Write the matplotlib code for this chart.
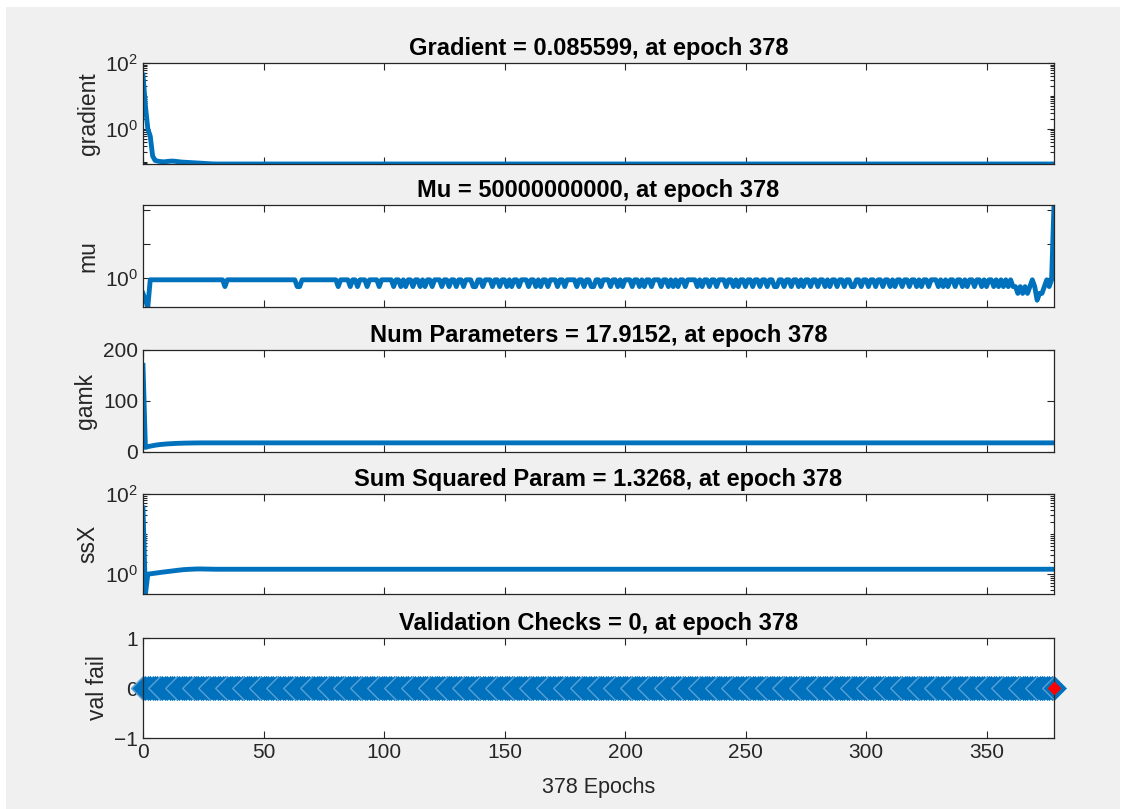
import numpy as np
import matplotlib
matplotlib.use('Agg')
import matplotlib.pyplot as plt
from matplotlib.ticker import LogLocator, FixedLocator, FixedFormatter, NullFormatter, NullLocator
from matplotlib.patches import Rectangle
from matplotlib.path import Path

plt.rcParams['font.family'] = ['Liberation Sans', 'DejaVu Sans']
plt.rcParams['mathtext.fontset'] = 'custom'
plt.rcParams['mathtext.rm'] = 'Liberation Sans'
plt.rcParams['mathtext.it'] = 'Liberation Sans:italic'
plt.rcParams['mathtext.bf'] = 'Liberation Sans:bold'

# ---------------- data ----------------
n_epochs = 378
epochs = np.arange(n_epochs + 1)

# gradient: fast drop over the first epochs, then flat
grad_head = [43, 5.0, 1.0, 0.6, 0.15, 0.11, 0.105, 0.102, 0.1, 0.1,
             0.102, 0.104, 0.105, 0.104, 0.102, 0.1, 0.098, 0.097, 0.096, 0.095,
             0.094, 0.093, 0.092, 0.091, 0.09, 0.089, 0.088, 0.087, 0.0865, 0.086]
grad_tail = [0.0856] * (n_epochs + 1 - len(grad_head))
gradient = np.array(grad_head + grad_tail)

# mu: first epochs, then one digit per epoch (d -> 5*10^-d), then the final jump
mu_head = [0.005, 0.0005, 0.00005]
mu_digits = ("11111 11111 11111 11111 11111"
             "11111 12111 11111 11111 11111"
             "11111 11111 12211 11111 11111"
             "11121 11121 12111 21111 21111"
             "12112 12112 11212 11211 12112"
             "11211 21112 21121 11211 21121"
             "21121 11211 21211 21112 11211"
             "11211 21122 11211 12112 12111"
             "21121 21121 11211 21212 11211"
             "11212 11211 21112 11212 11211"
             "21121 12112 21121 12112 12112"
             "11211 21211 21121 12211 21121"
             "12112 11212 11211 21121 21121"
             "11212 12112 11212 11211 21211"
             "21212 12122 32323 21243 32121").replace(' ', '')
mu_final = 5e10
mu = np.array(mu_head + [5 * 10.0 ** -int(d) for d in mu_digits] + [mu_final])

# effective number of parameters
gamk_head = [170, 9, 10.5, 11.5, 12.5, 13.3, 14, 14.6, 15.1, 15.5,
             15.9, 16.2, 16.5, 16.7, 16.9, 17.1, 17.3, 17.4, 17.5, 17.6,
             17.7, 17.8, 17.85, 17.9]
gamk_tail = [17.9152] * (n_epochs + 1 - len(gamk_head))
gamk = np.array(gamk_head + gamk_tail)

# sum squared parameters
ssx_head = [45, 0.32, 1.0, 1.02, 1.04, 1.06, 1.08, 1.1, 1.12, 1.14,
            1.16, 1.18, 1.2, 1.22, 1.24, 1.26, 1.28, 1.3, 1.31, 1.32,
            1.33, 1.34, 1.345, 1.35, 1.35, 1.345, 1.34, 1.335, 1.33]
ssx_tail = [1.3268] * (n_epochs + 1 - len(ssx_head))
ssx = np.array(ssx_head + ssx_tail)

# validation checks
val_fail = np.array([0] * (n_epochs + 1))

titles = ['Gradient = 0.085599, at epoch 378',
          'Mu = 50000000000, at epoch 378',
          'Num Parameters = 17.9152, at epoch 378',
          'Sum Squared Param = 1.3268, at epoch 378',
          'Validation Checks = 0, at epoch 378']
ylabels = ['gradient', 'mu', 'gamk', 'ssX', 'val fail']
xticks = [0, 50, 100, 150, 200, 250, 300, 350]

# ---------------- figure ----------------
W, H = 1122, 809
fig = plt.figure(figsize=(W / 100, H / 100), dpi=100, facecolor='white')
fig.patches.append(Rectangle((6 / W, 0), (1120 - 6) / W, (H - 7) / H,
                             transform=fig.transFigure, facecolor='#f0f0f0',
                             edgecolor='none', zorder=-10))

left, right = 143, 1054
panels = [(63, 164), (205, 307), (350, 452), (494, 594), (638, 738)]
blue = '#0072BD'
dark = '#262626'

axes = []
for top, bot in panels:
    ax = fig.add_axes([left / W, 1 - bot / H, (right - left) / W, (bot - top) / H])
    ax.set_facecolor('white')
    for s in ax.spines.values():
        s.set_color(dark)
        s.set_linewidth(0.9)
    axes.append(ax)

series = [gradient, mu, gamk, ssx]
for i in range(4):
    axes[i].plot(epochs, series[i], color=blue, lw=3.5)

# panel 1
axes[0].set_yscale('log')
axes[0].set_ylim(0.0856, 100)
axes[0].yaxis.set_major_locator(FixedLocator([1, 100]))
axes[0].yaxis.set_minor_locator(LogLocator(base=10, subs=np.arange(1, 10), numticks=20))
axes[0].yaxis.set_minor_formatter(NullFormatter())

# panel 2
axes[1].set_yscale('log')
axes[1].set_ylim(5e-5, 5e10)
axes[1].yaxis.set_major_locator(FixedLocator([1, 1e5, 1e10]))
axes[1].yaxis.set_major_formatter(FixedFormatter([r'$\mathdefault{10^{0}}$', '', '']))
axes[1].yaxis.set_minor_locator(NullLocator())

# panel 3
axes[2].set_ylim(0, 200)
axes[2].set_yticks([0, 100, 200])

# panel 4
axes[3].set_yscale('log')
axes[3].set_ylim(0.32, 100)
axes[3].yaxis.set_major_locator(FixedLocator([1, 100]))
axes[3].yaxis.set_minor_locator(LogLocator(base=10, subs=np.arange(1, 10), numticks=20))
axes[3].yaxis.set_minor_formatter(NullFormatter())

# panel 5: overlapping diamonds, faint left edges show through
axes[4].plot(epochs, val_fail, color=blue, lw=3.5, marker='D', ms=12,
             mfc=blue, mec=blue, mew=0.5, clip_on=False)
chevron = Path([(0, 1), (-1, 0), (0, -1)], [Path.MOVETO, Path.LINETO, Path.LINETO])
axes[4].plot(epochs, val_fail, ls='none', marker=chevron, ms=17, mfc='none',
             mec='#5a9fd4', mew=1.0, markevery=7, clip_on=False)
axes[4].plot(epochs[-1], val_fail[-1], 'D', color='red', ms=6, clip_on=False, zorder=5)
axes[4].set_ylim(-1, 1)
axes[4].set_yticks([-1, 0, 1])
axes[4].set_xlabel('378 Epochs', fontsize=15.5, color=dark, labelpad=11)

for i, ax in enumerate(axes):
    ax.set_xlim(0, n_epochs)
    ax.set_xticks(xticks)
    if i < 4:
        ax.set_xticklabels([])
    ax.tick_params(which='both', direction='in', top=True, right=True,
                   colors=dark, labelsize=15, width=0.8)
    ax.tick_params(which='major', length=5)
    ax.tick_params(which='minor', length=3)
    ax.set_title(titles[i], fontsize=17, fontweight='bold', color='black', pad=6)
    ax.set_ylabel(ylabels[i], fontsize=16.5, color=dark, labelpad=4)

fig.savefig('out.png', dpi=100, facecolor=fig.get_facecolor())
